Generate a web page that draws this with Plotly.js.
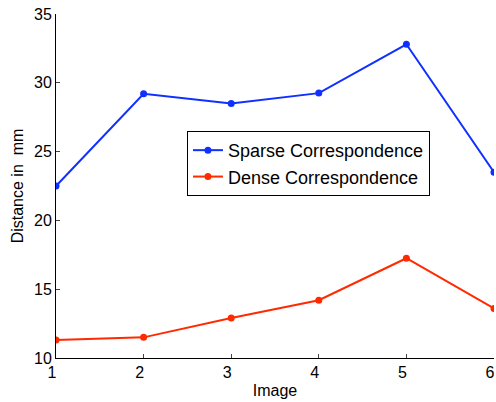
<!DOCTYPE html>
<html><head><meta charset="utf-8">
<script src="https://cdn.plot.ly/plotly-3.0.1.min.js"></script>
<style>html,body{margin:0;padding:0;background:#fff}#chart{width:496px;height:402px}</style>
</head><body><div id="chart"></div>
<script>
const images = [1, 2, 3, 4, 5, 6];
const sparse = [22.5, 29.2, 28.5, 29.25, 32.8, 23.5];
const dense = [11.3, 11.5, 12.9, 14.2, 17.25, 13.6];
const xTicks = [1, 2, 3, 4, 5, 6];
const yTicks = [10, 15, 20, 25, 30, 35];

const font = {family: 'Liberation Sans, Arial, Helvetica, sans-serif', size: 16, color: '#000'};
const legendFont = {family: 'Liberation Sans, Arial, Helvetica, sans-serif', size: 18, color: '#000'};
const traces = [
  {x: images, y: sparse, name: 'Sparse Correspondence', type: 'scatter', mode: 'lines+markers',
   line: {color: '#1030ff', width: 2}, marker: {color: '#1030ff', size: 7}},
  {x: images, y: dense, name: 'Dense Correspondence', type: 'scatter', mode: 'lines+markers',
   line: {color: '#ff2a00', width: 2}, marker: {color: '#ff2a00', size: 7}}
];
const layout = {
  width: 496, height: 402,
  margin: {l: 56, r: 2, t: 14, b: 44},
  paper_bgcolor: '#fff', plot_bgcolor: '#fff',
  font: font,
  showlegend: true,
  legend: {x: 0.299, y: 0.66, xanchor: 'left', yanchor: 'top', bordercolor: '#000', borderwidth: 1,
           bgcolor: '#fff', font: legendFont, tracegroupgap: 0, itemwidth: 30, traceorder: 'normal'},
  xaxis: {range: [1, 6], tickvals: xTicks, ticktext: xTicks.map(String), ticks: 'inside', ticklen: 4,
          showline: true, linecolor: '#000', linewidth: 1, showgrid: false, zeroline: false,
          ticklabelshift: -4, ticklabeloverflow: 'allow',
          title: {text: 'Image', font: font, standoff: 4}, tickfont: font},
  yaxis: {range: [10, 35], tickvals: yTicks, ticktext: yTicks.map(String), ticks: 'inside', ticklen: 4,
          showline: true, linecolor: '#000', linewidth: 1, showgrid: false, zeroline: false,
          title: {text: 'Distance in  mm', font: font, standoff: 6}, tickfont: font}
};
Plotly.newPlot('chart', traces, layout, {displayModeBar: false, staticPlot: true});
</script></body></html>
